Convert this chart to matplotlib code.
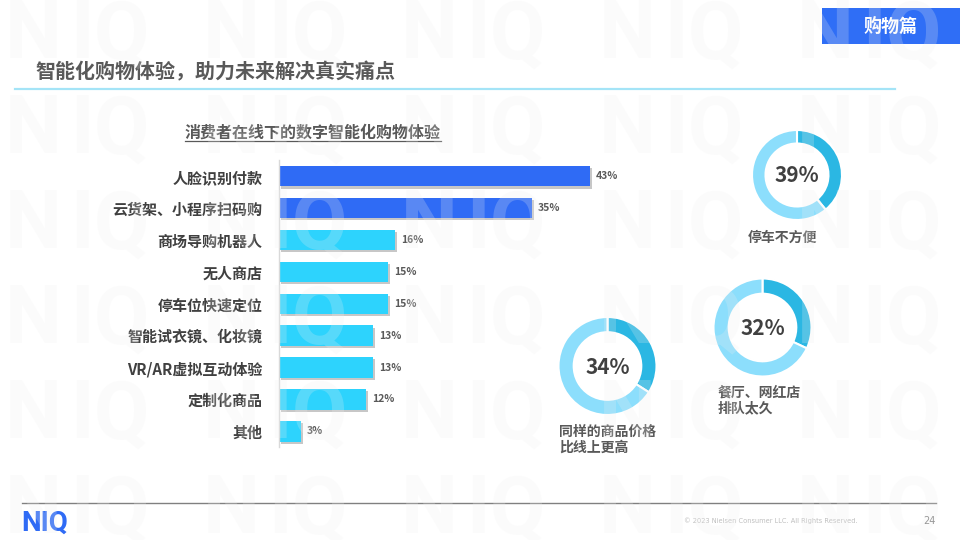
import matplotlib
matplotlib.use("Agg")
import matplotlib.pyplot as plt
import matplotlib.patheffects as pe
from matplotlib.patches import Rectangle

plt.rcParams['font.family'] = ['Noto Sans CJK SC', 'DejaVu Sans']

# ── data ─────────────────────────────────────────────────────────────
categories = ["人脸识别付款", "云货架、小程序扫码购", "商场导购机器人", "无人商店",
              "停车位快速定位", "智能试衣镜、化妆镜", "VR/AR虚拟互动体验",
              "定制化商品", "其他"]
shares = [43, 35, 16, 15, 15, 13, 13, 12, 3]
highlight = [True, True, False, False, False, False, False, False, False]

pain_labels = ["停车不方便", "餐厅、网红店\n排队太久", "同样的商品价格\n比线上更高"]
pain_values = [39, 32, 34]

title = "智能化购物体验，助力未来解决真实痛点"
subtitle = "消费者在线下的数字智能化购物体验"

DARK = "#404040"
MID = "#595959"
BLUE = "#2F6BF5"
CYAN = "#2DD3FD"
RING_DARK = "#2BB7E3"
RING_LIGHT = "#8CDEFC"

W, H = 960, 540
fig = plt.figure(figsize=(W / 100, H / 100), dpi=100)
fig.patch.set_facecolor("white")


def fx(px):
    return px / W


def fy(py):
    return 1 - py / H


# ── header / footer ──────────────────────────────────────────────────
bg = fig.add_axes([0, 0, 1, 1])
bg.set_xlim(0, W); bg.set_ylim(H, 0)
bg.axis("off")
bg.add_patch(Rectangle((822, 8), 140, 36, color="#2F6EF6", lw=0))
bg.text(890, 26, "购物篇", color="white", fontsize=13, fontweight="bold",
        ha="center", va="center")
bg.text(35, 72, title, color=MID, fontsize=14.4, fontweight="bold",
        ha="left", va="center")
bg.plot([15, 895], [89, 89], color="#A4E4F7", lw=1.6)
bg.text(185, 132.5, subtitle, color=MID, fontsize=11.5, fontweight="bold",
        ha="left", va="center")
bg.plot([185, 441], [141, 141], color=MID, lw=0.9)
bg.plot([22, 936], [503, 503], color="#808080", lw=1)
bg.text(21, 531, "NIQ", color=BLUE, fontsize=20, fontweight="bold",
        family="Roboto", ha="left", va="baseline")
bg.text(858, 521, "© 2023 Nielsen Consumer LLC. All Rights Reserved.",
        color="#BFBFBF", fontsize=4.8, family="DejaVu Sans", ha="right", va="center")
bg.text(936, 521, "24", color="#7F7F7F", fontsize=7, family="DejaVu Sans",
        ha="right", va="center")

# ── bar chart ────────────────────────────────────────────────────────
ax = fig.add_axes([fx(279.3), fy(447.3), 433.5 / W, 287 / H])
ax.set_facecolor("none")
ypos = list(range(len(categories)))
colors = [BLUE if h else CYAN for h in highlight]
bars = ax.barh(ypos, shares, height=0.64, color=colors, zorder=2)
for b in bars:
    b.set_path_effects([pe.withSimplePatchShadow(offset=(1.5, -1.5),
                                                 shadow_rgbFace="black", alpha=0.22)])
for y, v in zip(ypos, shares):
    ax.annotate(f"{v}%", (v, y), xytext=(4.3, 0), textcoords="offset points",
                ha="left", va="center", fontsize=7.5, fontweight="bold", color=MID)
ax.set_xlim(0, 60)
ax.set_ylim(len(categories) - 0.5, -0.5)
ax.set_yticks(ypos)
ax.set_yticklabels(categories, fontsize=10.8, fontweight="bold", color=DARK)
ax.tick_params(axis="y", length=0, pad=12)
ax.set_xticks([])
for s in ["top", "right", "bottom"]:
    ax.spines[s].set_visible(False)
ax.spines["left"].set_color("#D9D9D9")
ax.spines["left"].set_linewidth(1)

# ── donuts ───────────────────────────────────────────────────────────
donut_pos = [(797, 175, 45, 0.30), (762.5, 327.5, 49, 0.31), (607.5, 366, 49, 0.31)]
label_pos = [(748, 238), (718, 400), (559, 440)]
for (cx, cy, r, w), val, lab, (lx, ly) in zip(donut_pos, pain_values, pain_labels, label_pos):
    dax = fig.add_axes([fx(cx - r), fy(cy + r), 2 * r / W, 2 * r / H])
    dax.pie([val, 100 - val], colors=[RING_DARK, RING_LIGHT], startangle=90,
            counterclock=False, radius=1,
            wedgeprops=dict(width=w, edgecolor="white", linewidth=1.5))
    dax.set_xlim(-1, 1); dax.set_ylim(-1, 1)
    dax.set_aspect("equal")
    dax.axis("off")
    bg.text(cx, cy + 1, f"{val}%", fontsize=15, fontweight="bold", color=DARK,
            ha="center", va="center")
    bg.text(lx, ly, lab, fontsize=10, fontweight="bold", color=MID,
            ha="left", va="center", linespacing=1.15)

# ── NIQ watermark (drawn on top, very faint) ─────────────────────────
letters = [("N", 5), ("I", 70), ("Q", 94)]
for row in range(6):
    base = 58 + 95 * row
    for col in range(5):
        x0 = 198 * col
        for ch, dx in letters:
            fig.text(fx(x0 + dx), fy(base), ch, fontsize=58, fontweight="bold",
                     family="Roboto", color="#F0F0F0", alpha=0.22,
                     ha="left", va="baseline", zorder=10)

fig.savefig("out.png", dpi=100, facecolor="white")
